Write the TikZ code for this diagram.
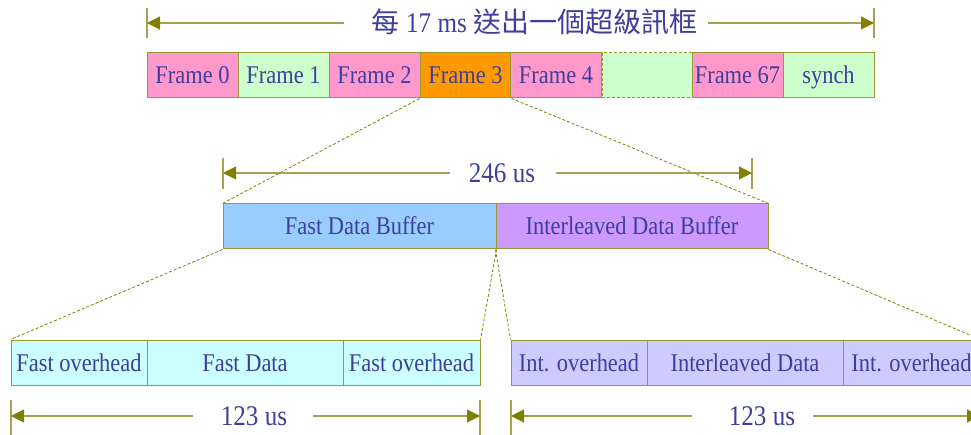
\documentclass[tikz,border=0pt]{standalone}
\usepackage{fontspec}
\setmainfont[FakeStretch=0.88]{Liberation Serif}
\newfontfamily\cjk{Noto Sans CJK TC}
\usetikzlibrary{arrows.meta}
\definecolor{txt}{HTML}{3E3E9E}
\definecolor{bd}{HTML}{999933}
\definecolor{dimc}{HTML}{A3A352}
\definecolor{tip}{HTML}{808000}
\definecolor{pink}{HTML}{FF99CC}
\definecolor{lgreen}{HTML}{CCFFCC}
\definecolor{orng}{HTML}{FF9900}
\definecolor{lblue}{HTML}{99CCFF}
\definecolor{lviolet}{HTML}{CC99FF}
\definecolor{lcyan}{HTML}{CCFFFF}
\definecolor{lperi}{HTML}{CCCCFF}
\tikzset{
  box/.style={draw=bd, line width=1pt, inner sep=0pt, minimum height=45pt,
    text height=17pt, text depth=0pt, text=txt,
    font=\fontsize{25.5}{30}\selectfont},
  lbl/.style={anchor=base, inner sep=0pt, text=txt, font=\fontsize{28.5}{34}\selectfont},
  dimline/.style={draw=dimc, line width=1.1pt, -{Triangle[length=13pt,width=13pt,color=tip]}},
  tick/.style={draw=dimc, line width=1.1pt},
  zoomline/.style={draw=tip, line width=0.8pt, dash pattern=on 3pt off 2pt}
}
\begin{document}
\begin{tikzpicture}[x=1pt,y=-1pt]
\useasboundingbox (0,0) rectangle (971,435);
\clip (0,0) rectangle (971,435);

% ---- top row of frames ----
\node[box, fill=pink,   minimum width=91pt] (f0) at (192.5,75.5) {Frame 0};
\node[box, fill=lgreen, minimum width=91pt] (f1) at (283.5,75.5) {Frame 1};
\node[box, fill=pink,   minimum width=91pt] (f2) at (374.5,75.5) {Frame 2};
\node[box, fill=orng,   minimum width=91pt] (f3) at (465.5,75.5) {Frame 3};
\node[box, fill=lgreen, minimum width=90pt, dashed, dash pattern=on 3pt off 2pt] (fx) at (647,75.5) {};
\node[box, fill=pink,   minimum width=91pt] (f4) at (556,75.5) {Frame 4};
\node[box, fill=pink,   minimum width=91pt] (f67) at (737.5,75.5) {Frame 67};
\node[box, fill=lgreen, minimum width=91pt] (sy) at (828.5,75.5) {synch};

% ---- top dimension ----
\node[lbl] (ttop) at (534.5,33) {{\cjk\fontsize{28}{34}\selectfont 每} 17 ms {\cjk\fontsize{28}{34}\selectfont 送出一個超級訊框}};
\coordinate (tl) at (147,23);
\coordinate (tr) at (874,23);
\coordinate (tgl) at (344,23);
\coordinate (tgr) at (708,23);
\draw[tick] (147,8) -- (147,38);
\draw[tick] (874,8) -- (874,38);
\draw[dimline] (tgl) -- (tl);
\draw[dimline] (tgr) -- (tr);

% ---- middle buffers ----
\node[box, fill=lblue,   minimum width=273pt] (fdb) at (359.5,226.5) {Fast Data Buffer};
\node[box, fill=lviolet, minimum width=272pt] (idb) at (632,226.5) {Interleaved Data Buffer};

\draw[zoomline] (f3.south west) -- (fdb.north west);
\draw[zoomline] (f3.south east) -- (idb.north east);

% ---- middle dimension ----
\node[lbl] (tmid) at (502,183) {246 us};
\coordinate (ml) at (223,173);
\coordinate (mr) at (752,173);
\coordinate (mgl) at (450,173);
\coordinate (mgr) at (556,173);
\draw[tick] (223,158) -- (223,189);
\draw[tick] (752,158) -- (752,189);
\draw[dimline] (mgl) -- (ml);
\draw[dimline] (mgr) -- (mr);

% ---- bottom left: fast path ----
\node[box, fill=lcyan, minimum width=136pt] (fo1) at (79,362.5) {Fast overhead};
\node[box, fill=lcyan, minimum width=196pt] (fd)  at (245,362.5) {Fast Data};
\node[box, fill=lcyan, minimum width=137pt] (fo2) at (411.5,362.5) {Fast overhead};

% ---- bottom right: interleaved path ----
\node[box, fill=lperi, minimum width=136pt] (io1) at (579,362.5) {Int. overhead};
\node[box, fill=lperi, minimum width=196pt] (id)  at (745,362.5) {Interleaved Data};
\node[box, fill=lperi, minimum width=137pt] (io3) at (911.5,362.5) {Int. overhead};

\draw[zoomline] (fdb.south west) -- (fo1.north west);
\draw[zoomline] (fdb.south east) -- (fo2.north east);
\draw[zoomline] (idb.south west) -- (io1.north west);
\draw[zoomline] (idb.south east) -- (io3.north east);

% ---- bottom dimensions ----
\node[lbl] (tbl) at (254,425) {123 us};
\coordinate (bl1) at (11,416);
\coordinate (bl2) at (480,416);
\coordinate (bgl1) at (193,416);
\coordinate (bgl2) at (313,416);
\draw[tick] (11,400) -- (11,440);
\draw[tick] (480,400) -- (480,440);
\draw[dimline] (bgl1) -- (bl1);
\draw[dimline] (bgl2) -- (bl2);

\node[lbl] (tbr) at (762,425) {123 us};
\coordinate (br1) at (511,416);
\coordinate (br2) at (980,416);
\coordinate (bgr1) at (692,416);
\coordinate (bgr2) at (813,416);
\draw[tick] (511,400) -- (511,440);
\draw[tick] (980,400) -- (980,440);
\draw[dimline] (bgr1) -- (br1);
\draw[dimline] (bgr2) -- (br2);
\end{tikzpicture}
\end{document}
